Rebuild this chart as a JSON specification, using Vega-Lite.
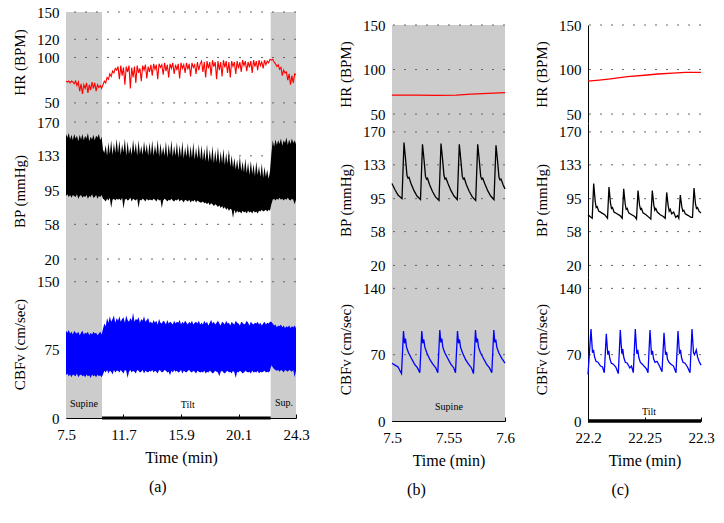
{
"$schema": "https://vega.github.io/schema/vega-lite/v6.json",
"background": "white",
"padding": {"left": 12, "top": 5, "right": 5, "bottom": 5},
"config": {
  "font": "Liberation Serif",
  "view": {"stroke": null},
  "axis": {"labelFont": "Liberation Serif", "labelFontSize": 15, "labelColor": "#000", "titleFont": "Liberation Serif", "titleFontSize": 15, "titleFontWeight": "normal", "titleColor": "#000", "grid": false, "domainColor": "#000", "domainWidth": 1, "tickColor": "#000", "labelFlush": false, "labelOverlap": false, "labelBound": false, "zindex": 1, "tickCount": 20},
  "axisY": {"ticks": false, "labelPadding": 7, "titlePadding": 9, "labelOverlap": false},
  "axisX": {"tickSize": -4, "labelPadding": 13, "titlePadding": 7, "titleFontSize": 16, "labelOverlap": false},
  "title": {"font": "Liberation Serif", "fontSize": 16, "fontWeight": "normal", "color": "#000", "anchor": "middle"},
  "text": {"font": "Liberation Serif", "fontSize": 10}
},
"datasets": {
  "phA": [{"start":7.5,"end":10.13,"phase":"Supine"},{"start":10.13,"end":22.45,"phase":"Tilt"},{"start":22.45,"end":24.3,"phase":"Supine"}],
  "lbA": [{"t":8.81,"v":15,"label":"Supine"},{"t":16.39,"v":14,"label":"Tilt"},{"t":23.42,"v":16,"label":"Sup."}],
  "phB": [{"start":7.5,"end":7.6,"phase":"Supine"}],
  "lbB": [{"t":7.5504,"v":14.7,"label":"Supine"}],
  "phC": [{"start":22.2,"end":22.3,"phase":"Tilt"}],
  "lbC": [{"t":22.254,"v":9.5,"label":"Tilt"}],
  "a": [
{"t":7.5,"hr":74,"bh":157,"bl":89,"ch":96,"cl":47},
{"t":7.6,"hr":73,"bh":153,"bl":91,"ch":94,"cl":49},
{"t":7.7,"hr":74,"bh":158,"bl":88,"ch":97,"cl":46},
{"t":7.8,"hr":72,"bh":151,"bl":90,"ch":93,"cl":48},
{"t":7.9,"hr":74,"bh":156,"bl":87,"ch":95,"cl":45},
{"t":8.0,"hr":73,"bh":150,"bl":90,"ch":92,"cl":48},
{"t":8.1,"hr":71,"bh":157,"bl":89,"ch":96,"cl":47},
{"t":8.2,"hr":74,"bh":152,"bl":88,"ch":94,"cl":46},
{"t":8.3,"hr":69,"bh":155,"bl":91,"ch":93,"cl":49},
{"t":8.4,"hr":73,"bh":149,"bl":86,"ch":95,"cl":45},
{"t":8.5,"hr":63,"bh":156,"bl":89,"ch":91,"cl":47},
{"t":8.6,"hr":71,"bh":151,"bl":90,"ch":94,"cl":48},
{"t":8.7,"hr":60,"bh":157,"bl":87,"ch":96,"cl":46},
{"t":8.8,"hr":70,"bh":150,"bl":89,"ch":92,"cl":47},
{"t":8.9,"hr":66,"bh":155,"bl":88,"ch":94,"cl":45},
{"t":9.0,"hr":72,"bh":152,"bl":90,"ch":93,"cl":48},
{"t":9.1,"hr":61,"bh":158,"bl":86,"ch":95,"cl":46},
{"t":9.2,"hr":70,"bh":149,"bl":89,"ch":91,"cl":47},
{"t":9.3,"hr":64,"bh":154,"bl":88,"ch":94,"cl":44},
{"t":9.4,"hr":73,"bh":151,"bl":91,"ch":92,"cl":48},
{"t":9.5,"hr":66,"bh":156,"bl":87,"ch":95,"cl":46},
{"t":9.6,"hr":72,"bh":150,"bl":88,"ch":93,"cl":47},
{"t":9.7,"hr":63,"bh":155,"bl":90,"ch":94,"cl":45},
{"t":9.8,"hr":70,"bh":153,"bl":86,"ch":91,"cl":48},
{"t":9.9,"hr":67,"bh":157,"bl":89,"ch":93,"cl":46},
{"t":10.0,"hr":69,"bh":150,"bl":88,"ch":95,"cl":47},
{"t":10.1,"hr":66,"bh":154,"bl":90,"ch":92,"cl":45},
{"t":10.2,"hr":70,"bh":140,"bl":86,"ch":98,"cl":48},
{"t":10.3,"hr":74,"bh":136,"bl":85,"ch":104,"cl":52},
{"t":10.4,"hr":72,"bh":145,"bl":83,"ch":101,"cl":50},
{"t":10.5,"hr":78,"bh":133,"bl":86,"ch":110,"cl":53},
{"t":10.6,"hr":76,"bh":148,"bl":84,"ch":105,"cl":49},
{"t":10.7,"hr":82,"bh":135,"bl":87,"ch":112,"cl":52},
{"t":10.8,"hr":79,"bh":150,"bl":76,"ch":106,"cl":51},
{"t":10.9,"hr":85,"bh":134,"bl":85,"ch":109,"cl":48},
{"t":11.0,"hr":83,"bh":147,"bl":86,"ch":113,"cl":53},
{"t":11.1,"hr":88,"bh":136,"bl":84,"ch":105,"cl":50},
{"t":11.2,"hr":86,"bh":152,"bl":86,"ch":110,"cl":52},
{"t":11.3,"hr":90,"bh":136,"bl":85,"ch":107,"cl":52},
{"t":11.4,"hr":76,"bh":150,"bl":86,"ch":112,"cl":50},
{"t":11.5,"hr":91,"bh":134,"bl":84,"ch":106,"cl":53},
{"t":11.6,"hr":80,"bh":146,"bl":87,"ch":109,"cl":51},
{"t":11.7,"hr":89,"bh":137,"bl":75,"ch":111,"cl":49},
{"t":11.8,"hr":70,"bh":152,"bl":85,"ch":105,"cl":53},
{"t":11.9,"hr":90,"bh":133,"bl":86,"ch":113,"cl":52},
{"t":12.0,"hr":84,"bh":149,"bl":84,"ch":108,"cl":44},
{"t":12.1,"hr":91,"bh":135,"bl":85,"ch":106,"cl":51},
{"t":12.2,"hr":66,"bh":143,"bl":87,"ch":110,"cl":53},
{"t":12.3,"hr":89,"bh":134,"bl":83,"ch":107,"cl":50},
{"t":12.4,"hr":78,"bh":151,"bl":86,"ch":116,"cl":52},
{"t":12.5,"hr":90,"bh":136,"bl":85,"ch":106,"cl":51},
{"t":12.6,"hr":72,"bh":147,"bl":84,"ch":109,"cl":49},
{"t":12.7,"hr":91,"bh":133,"bl":86,"ch":108,"cl":53},
{"t":12.8,"hr":83,"bh":150,"bl":76,"ch":111,"cl":52},
{"t":12.9,"hr":88,"bh":135,"bl":85,"ch":105,"cl":50},
{"t":13.0,"hr":74,"bh":144,"bl":84,"ch":109,"cl":51},
{"t":13.1,"hr":91,"bh":134,"bl":86,"ch":107,"cl":53},
{"t":13.2,"hr":86,"bh":149,"bl":85,"ch":112,"cl":49},
{"t":13.3,"hr":92,"bh":136,"bl":83,"ch":106,"cl":52},
{"t":13.4,"hr":77,"bh":146,"bl":86,"ch":108,"cl":51},
{"t":13.5,"hr":90,"bh":133,"bl":84,"ch":110,"cl":50},
{"t":13.6,"hr":84,"bh":148,"bl":85,"ch":105,"cl":52},
{"t":13.7,"hr":92,"bh":134,"bl":85,"ch":106,"cl":51},
{"t":13.8,"hr":80,"bh":150,"bl":84,"ch":104,"cl":53},
{"t":13.9,"hr":93,"bh":133,"bl":86,"ch":108,"cl":50},
{"t":14.0,"hr":87,"bh":145,"bl":85,"ch":105,"cl":52},
{"t":14.1,"hr":92,"bh":135,"bl":83,"ch":107,"cl":51},
{"t":14.2,"hr":76,"bh":151,"bl":86,"ch":103,"cl":49},
{"t":14.3,"hr":93,"bh":132,"bl":84,"ch":109,"cl":53},
{"t":14.4,"hr":89,"bh":147,"bl":85,"ch":105,"cl":52},
{"t":14.5,"hr":92,"bh":134,"bl":76,"ch":104,"cl":50},
{"t":14.6,"hr":81,"bh":143,"bl":84,"ch":107,"cl":51},
{"t":14.7,"hr":94,"bh":133,"bl":86,"ch":106,"cl":53},
{"t":14.8,"hr":85,"bh":149,"bl":85,"ch":103,"cl":52},
{"t":14.9,"hr":92,"bh":131,"bl":83,"ch":108,"cl":50},
{"t":15.0,"hr":78,"bh":146,"bl":85,"ch":104,"cl":51},
{"t":15.1,"hr":93,"bh":134,"bl":84,"ch":106,"cl":47},
{"t":15.2,"hr":88,"bh":150,"bl":86,"ch":105,"cl":52},
{"t":15.3,"hr":94,"bh":132,"bl":84,"ch":103,"cl":50},
{"t":15.4,"hr":82,"bh":144,"bl":83,"ch":107,"cl":53},
{"t":15.5,"hr":92,"bh":133,"bl":85,"ch":104,"cl":51},
{"t":15.6,"hr":86,"bh":148,"bl":84,"ch":106,"cl":52},
{"t":15.7,"hr":93,"bh":131,"bl":86,"ch":105,"cl":50},
{"t":15.8,"hr":77,"bh":145,"bl":83,"ch":108,"cl":51},
{"t":15.9,"hr":94,"bh":132,"bl":85,"ch":103,"cl":53},
{"t":16.0,"hr":88,"bh":149,"bl":84,"ch":106,"cl":49},
{"t":16.1,"hr":92,"bh":130,"bl":82,"ch":104,"cl":52},
{"t":16.2,"hr":83,"bh":143,"bl":85,"ch":107,"cl":51},
{"t":16.3,"hr":94,"bh":132,"bl":84,"ch":105,"cl":50},
{"t":16.4,"hr":87,"bh":147,"bl":83,"ch":103,"cl":52},
{"t":16.5,"hr":93,"bh":130,"bl":85,"ch":106,"cl":53},
{"t":16.6,"hr":79,"bh":144,"bl":82,"ch":104,"cl":51},
{"t":16.7,"hr":94,"bh":131,"bl":84,"ch":107,"cl":50},
{"t":16.8,"hr":89,"bh":148,"bl":83,"ch":103,"cl":52},
{"t":16.9,"hr":92,"bh":129,"bl":85,"ch":105,"cl":51},
{"t":17.0,"hr":82,"bh":142,"bl":82,"ch":106,"cl":49},
{"t":17.1,"hr":95,"bh":130,"bl":84,"ch":104,"cl":52},
{"t":17.2,"hr":86,"bh":146,"bl":83,"ch":107,"cl":51},
{"t":17.3,"hr":93,"bh":129,"bl":82,"ch":103,"cl":50},
{"t":17.4,"hr":96,"bh":145,"bl":82,"ch":105,"cl":51},
{"t":17.5,"hr":84,"bh":128,"bl":83,"ch":103,"cl":50},
{"t":17.6,"hr":95,"bh":141,"bl":81,"ch":107,"cl":52},
{"t":17.7,"hr":78,"bh":127,"bl":82,"ch":104,"cl":49},
{"t":17.8,"hr":96,"bh":146,"bl":80,"ch":106,"cl":51},
{"t":17.9,"hr":88,"bh":126,"bl":82,"ch":102,"cl":50},
{"t":18.0,"hr":95,"bh":140,"bl":79,"ch":105,"cl":52},
{"t":18.1,"hr":80,"bh":127,"bl":81,"ch":108,"cl":51},
{"t":18.2,"hr":97,"bh":144,"bl":80,"ch":104,"cl":49},
{"t":18.3,"hr":90,"bh":125,"bl":78,"ch":106,"cl":50},
{"t":18.4,"hr":95,"bh":139,"bl":80,"ch":103,"cl":52},
{"t":18.5,"hr":76,"bh":126,"bl":79,"ch":105,"cl":51},
{"t":18.6,"hr":96,"bh":143,"bl":77,"ch":107,"cl":50},
{"t":18.7,"hr":86,"bh":124,"bl":79,"ch":104,"cl":46},
{"t":18.8,"hr":95,"bh":138,"bl":76,"ch":102,"cl":51},
{"t":18.9,"hr":79,"bh":125,"bl":78,"ch":106,"cl":52},
{"t":19.0,"hr":97,"bh":141,"bl":75,"ch":105,"cl":50},
{"t":19.1,"hr":89,"bh":123,"bl":77,"ch":103,"cl":49},
{"t":19.2,"hr":96,"bh":136,"bl":74,"ch":107,"cl":51},
{"t":19.3,"hr":83,"bh":124,"bl":76,"ch":104,"cl":52},
{"t":19.4,"hr":95,"bh":140,"bl":73,"ch":105,"cl":50},
{"t":19.5,"hr":78,"bh":121,"bl":75,"ch":102,"cl":51},
{"t":19.6,"hr":96,"bh":134,"bl":74,"ch":106,"cl":49},
{"t":19.7,"hr":90,"bh":120,"bl":65,"ch":104,"cl":52},
{"t":19.8,"hr":95,"bh":131,"bl":74,"ch":103,"cl":50},
{"t":19.9,"hr":82,"bh":118,"bl":70,"ch":107,"cl":44},
{"t":20.0,"hr":96,"bh":129,"bl":73,"ch":105,"cl":51},
{"t":20.1,"hr":88,"bh":117,"bl":71,"ch":104,"cl":50},
{"t":20.2,"hr":95,"bh":133,"bl":72,"ch":102,"cl":52},
{"t":20.3,"hr":84,"bh":116,"bl":70,"ch":106,"cl":51},
{"t":20.4,"hr":97,"bh":127,"bl":73,"ch":105,"cl":49},
{"t":20.5,"hr":91,"bh":115,"bl":71,"ch":103,"cl":50},
{"t":20.6,"hr":96,"bh":130,"bl":72,"ch":104,"cl":52},
{"t":20.7,"hr":85,"bh":114,"bl":70,"ch":107,"cl":51},
{"t":20.8,"hr":95,"bh":126,"bl":73,"ch":105,"cl":50},
{"t":20.9,"hr":89,"bh":112,"bl":71,"ch":102,"cl":51},
{"t":21.0,"hr":96,"bh":128,"bl":72,"ch":106,"cl":49},
{"t":21.1,"hr":83,"bh":113,"bl":70,"ch":104,"cl":52},
{"t":21.2,"hr":97,"bh":124,"bl":73,"ch":103,"cl":50},
{"t":21.3,"hr":90,"bh":111,"bl":71,"ch":105,"cl":51},
{"t":21.4,"hr":96,"bh":127,"bl":72,"ch":104,"cl":50},
{"t":21.5,"hr":86,"bh":112,"bl":70,"ch":106,"cl":52},
{"t":21.6,"hr":97,"bh":122,"bl":73,"ch":103,"cl":49},
{"t":21.7,"hr":91,"bh":110,"bl":72,"ch":105,"cl":51},
{"t":21.8,"hr":95,"bh":125,"bl":74,"ch":102,"cl":50},
{"t":21.9,"hr":88,"bh":109,"bl":72,"ch":104,"cl":51},
{"t":22.0,"hr":97,"bh":121,"bl":73,"ch":106,"cl":52},
{"t":22.1,"hr":92,"bh":110,"bl":74,"ch":103,"cl":50},
{"t":22.2,"hr":96,"bh":118,"bl":72,"ch":105,"cl":51},
{"t":22.3,"hr":94,"bh":108,"bl":74,"ch":104,"cl":50},
{"t":22.4,"hr":98,"bh":116,"bl":73,"ch":106,"cl":52},
{"t":22.5,"hr":97,"bh":135,"bl":80,"ch":106,"cl":58},
{"t":22.6,"hr":98,"bh":150,"bl":85,"ch":104,"cl":56},
{"t":22.7,"hr":95,"bh":143,"bl":86,"ch":102,"cl":54},
{"t":22.8,"hr":93,"bh":151,"bl":84,"ch":103,"cl":53},
{"t":22.9,"hr":90,"bh":145,"bl":86,"ch":100,"cl":52},
{"t":23.0,"hr":92,"bh":150,"bl":85,"ch":102,"cl":53},
{"t":23.1,"hr":87,"bh":146,"bl":87,"ch":101,"cl":51},
{"t":23.2,"hr":89,"bh":152,"bl":85,"ch":103,"cl":53},
{"t":23.3,"hr":80,"bh":144,"bl":86,"ch":100,"cl":52},
{"t":23.4,"hr":86,"bh":150,"bl":84,"ch":102,"cl":50},
{"t":23.5,"hr":83,"bh":147,"bl":86,"ch":99,"cl":53},
{"t":23.6,"hr":84,"bh":153,"bl":85,"ch":101,"cl":52},
{"t":23.7,"hr":75,"bh":145,"bl":87,"ch":100,"cl":51},
{"t":23.8,"hr":82,"bh":151,"bl":85,"ch":102,"cl":53},
{"t":23.9,"hr":70,"bh":146,"bl":84,"ch":99,"cl":52},
{"t":24.0,"hr":80,"bh":152,"bl":86,"ch":101,"cl":51},
{"t":24.1,"hr":72,"bh":147,"bl":85,"ch":100,"cl":53},
{"t":24.2,"hr":82,"bh":150,"bl":80,"ch":102,"cl":45},
{"t":24.3,"hr":81,"bh":146,"bl":85,"ch":99,"cl":52}
  ],
  "bHR": [{"t":7.5,"v":71.3},{"t":7.52,"v":71.2},{"t":7.54,"v":71.1},{"t":7.557,"v":71.3},{"t":7.57,"v":72.3},{"t":7.58,"v":73.0},{"t":7.59,"v":73.6},{"t":7.6,"v":74.2}],
  "bBP": [
{"t":7.5,"v":112},{"t":7.50265,"v":105},{"t":7.50531,"v":99},{"t":7.50885,"v":95},{"t":7.51062,"v":158},{"t":7.51195,"v":140},{"t":7.51327,"v":121},{"t":7.51416,"v":118},{"t":7.51504,"v":119},{"t":7.51681,"v":112},{"t":7.51947,"v":104},{"t":7.52212,"v":98},{"t":7.52522,"v":94},
{"t":7.52699,"v":156},{"t":7.52832,"v":139},{"t":7.52965,"v":120},{"t":7.53053,"v":117},{"t":7.53142,"v":118},{"t":7.53319,"v":111},{"t":7.53584,"v":103},{"t":7.5385,"v":97},{"t":7.54159,"v":93},
{"t":7.54336,"v":157},{"t":7.54469,"v":140},{"t":7.54602,"v":121},{"t":7.5469,"v":117},{"t":7.54779,"v":118},{"t":7.54956,"v":112},{"t":7.55221,"v":104},{"t":7.55487,"v":98},{"t":7.55779,"v":94},
{"t":7.55956,"v":156},{"t":7.56088,"v":139},{"t":7.56221,"v":120},{"t":7.5631,"v":117},{"t":7.56398,"v":118},{"t":7.56575,"v":111},{"t":7.56841,"v":103},{"t":7.57106,"v":97},{"t":7.57407,"v":93},
{"t":7.57584,"v":156},{"t":7.57717,"v":139},{"t":7.5785,"v":120},{"t":7.57938,"v":117},{"t":7.58027,"v":118},{"t":7.58204,"v":112},{"t":7.58469,"v":104},{"t":7.58735,"v":98},{"t":7.59027,"v":94},
{"t":7.59204,"v":155},{"t":7.59336,"v":138},{"t":7.59469,"v":119},{"t":7.59558,"v":116},{"t":7.59646,"v":117},{"t":7.59823,"v":111},{"t":7.6,"v":106}
  ],
  "bCB": [
{"t":7.5,"v":61},{"t":7.50265,"v":59},{"t":7.50531,"v":57},{"t":7.50708,"v":53},{"t":7.50841,"v":50},{"t":7.51018,"v":95},{"t":7.51106,"v":82},{"t":7.51195,"v":87},{"t":7.51283,"v":78},{"t":7.5146,"v":72},{"t":7.51726,"v":66},{"t":7.51991,"v":60},{"t":7.52257,"v":56},{"t":7.5246,"v":51},
{"t":7.52637,"v":95},{"t":7.52726,"v":82},{"t":7.52814,"v":86},{"t":7.52903,"v":78},{"t":7.5308,"v":72},{"t":7.53345,"v":65},{"t":7.53611,"v":60},{"t":7.53876,"v":56},{"t":7.54053,"v":51},
{"t":7.5423,"v":96},{"t":7.54319,"v":83},{"t":7.54407,"v":87},{"t":7.54496,"v":78},{"t":7.54673,"v":72},{"t":7.54938,"v":66},{"t":7.55204,"v":60},{"t":7.55469,"v":56},{"t":7.55619,"v":51},
{"t":7.55796,"v":95},{"t":7.55885,"v":82},{"t":7.55973,"v":86},{"t":7.56062,"v":78},{"t":7.56239,"v":72},{"t":7.56504,"v":65},{"t":7.5677,"v":60},{"t":7.57035,"v":56},{"t":7.57212,"v":50},
{"t":7.57389,"v":96},{"t":7.57478,"v":83},{"t":7.57566,"v":87},{"t":7.57655,"v":78},{"t":7.57832,"v":72},{"t":7.58097,"v":66},{"t":7.58363,"v":60},{"t":7.58628,"v":56},{"t":7.58832,"v":51},
{"t":7.59009,"v":96},{"t":7.59097,"v":83},{"t":7.59186,"v":86},{"t":7.59274,"v":78},{"t":7.59451,"v":72},{"t":7.59717,"v":66},{"t":7.6,"v":61}
  ],
  "cHR": [{"t":22.2,"v":87},{"t":22.21,"v":88.2},{"t":22.22,"v":89.6},{"t":22.235,"v":92},{"t":22.25,"v":93.6},{"t":22.262,"v":95},{"t":22.275,"v":96},{"t":22.286,"v":96.8},{"t":22.3,"v":96.9}],
  "cBP": [
{"t":22.2,"v":77},{"t":22.20177,"v":75},{"t":22.20372,"v":73},{"t":22.20504,"v":112},{"t":22.20637,"v":92},{"t":22.20726,"v":85},{"t":22.20814,"v":86},{"t":22.20947,"v":81},{"t":22.21212,"v":79},{"t":22.21478,"v":77},{"t":22.21726,"v":73},
{"t":22.21858,"v":108},{"t":22.21991,"v":90},{"t":22.2208,"v":84},{"t":22.22168,"v":85},{"t":22.22301,"v":80},{"t":22.22566,"v":78},{"t":22.22832,"v":76},{"t":22.23027,"v":73},
{"t":22.23159,"v":106},{"t":22.23292,"v":89},{"t":22.23381,"v":83},{"t":22.23469,"v":84},{"t":22.23602,"v":79},{"t":22.23867,"v":77},{"t":22.24133,"v":75},{"t":22.24292,"v":72},
{"t":22.24425,"v":104},{"t":22.24558,"v":88},{"t":22.24646,"v":83},{"t":22.24735,"v":84},{"t":22.24867,"v":79},{"t":22.25133,"v":77},{"t":22.25398,"v":74},{"t":22.25558,"v":72},
{"t":22.2569,"v":104},{"t":22.25823,"v":88},{"t":22.25912,"v":82},{"t":22.26,"v":84},{"t":22.26133,"v":80},{"t":22.26398,"v":77},{"t":22.26664,"v":75},{"t":22.26832,"v":73},
{"t":22.26965,"v":102},{"t":22.27097,"v":87},{"t":22.27186,"v":81},{"t":22.27274,"v":83},{"t":22.27407,"v":78},{"t":22.27584,"v":80},{"t":22.27761,"v":74},{"t":22.2792,"v":76},{"t":22.28035,"v":73},
{"t":22.28168,"v":99},{"t":22.28301,"v":86},{"t":22.28389,"v":81},{"t":22.28478,"v":82},{"t":22.28611,"v":78},{"t":22.28876,"v":76},{"t":22.29115,"v":74},{"t":22.29248,"v":74},
{"t":22.29381,"v":107},{"t":22.29513,"v":89},{"t":22.29602,"v":84},{"t":22.2969,"v":85},{"t":22.29823,"v":81},{"t":22.3,"v":79}
  ],
  "cCB": [
{"t":22.2,"v":49},{"t":22.20265,"v":97},{"t":22.20398,"v":72},{"t":22.20487,"v":75},{"t":22.20575,"v":68},{"t":22.20708,"v":63},{"t":22.20885,"v":62},{"t":22.21106,"v":58},{"t":22.21283,"v":57},{"t":22.21442,"v":51},
{"t":22.21619,"v":92},{"t":22.21752,"v":70},{"t":22.21841,"v":74},{"t":22.21929,"v":66},{"t":22.22062,"v":61},{"t":22.22239,"v":60},{"t":22.2246,"v":57},{"t":22.22681,"v":50},
{"t":22.22858,"v":96},{"t":22.22991,"v":71},{"t":22.2308,"v":76},{"t":22.23168,"v":67},{"t":22.23301,"v":62},{"t":22.23478,"v":61},{"t":22.23699,"v":56},{"t":22.2385,"v":58},{"t":22.24009,"v":51},
{"t":22.24186,"v":97},{"t":22.24319,"v":71},{"t":22.24407,"v":75},{"t":22.24496,"v":67},{"t":22.24628,"v":62},{"t":22.24805,"v":60},{"t":22.25027,"v":57},{"t":22.25177,"v":55},{"t":22.2531,"v":51},
{"t":22.25487,"v":96},{"t":22.25619,"v":70},{"t":22.25708,"v":74},{"t":22.25796,"v":66},{"t":22.25929,"v":62},{"t":22.26106,"v":63},{"t":22.26327,"v":58},{"t":22.26549,"v":52},
{"t":22.26726,"v":93},{"t":22.26858,"v":70},{"t":22.26947,"v":73},{"t":22.27035,"v":65},{"t":22.27168,"v":62},{"t":22.27345,"v":60},{"t":22.27566,"v":58},{"t":22.27788,"v":51},
{"t":22.27965,"v":95},{"t":22.28097,"v":71},{"t":22.28186,"v":75},{"t":22.28274,"v":67},{"t":22.28407,"v":62},{"t":22.28584,"v":61},{"t":22.28805,"v":57},{"t":22.29027,"v":51},
{"t":22.29204,"v":97},{"t":22.29336,"v":72},{"t":22.29425,"v":70},{"t":22.29584,"v":75},{"t":22.2969,"v":68},{"t":22.29823,"v":63},{"t":22.3,"v":59}
  ]
},
"spacing": 28,
"hconcat": [
 {
  "title": {"text": "(a)", "orient": "bottom", "anchor": "middle", "dx": -3, "offset": 14},
  "spacing": 0,
  "vconcat": [
   {"width": 230, "height": 100, "layer": [
     {"data": {"name": "phA"}, "transform": [{"filter": "datum.phase == 'Supine'"}], "mark": {"type": "rect", "color": "#cccccc"},
      "encoding": {"x": {"field": "start", "type": "quantitative", "scale": {"domain": [7.5, 24.3], "nice": false, "zero": false}, "axis": null}, "x2": {"field": "end"}}},
     {"data": {"values": [{"v": 50}, {"v": 100}, {"v": 120}, {"v": 150}]}, "mark": {"type": "rule", "color": "#666666", "strokeDash": [2, 9]},
      "encoding": {"y": {"field": "v", "type": "quantitative", "scale": {"domain": [40, 150], "nice": false, "zero": false}, "axis": {"values": [50, 100, 120, 150], "tickCount": 20, "title": "HR (BPM)", "domainColor": "#555555", "labelOverlap": false}}}},
     {"data": {"name": "a"}, "mark": {"type": "line", "color": "#ff0000", "strokeWidth": 1.1},
      "encoding": {"x": {"field": "t", "type": "quantitative", "scale": {"domain": [7.5, 24.3], "nice": false, "zero": false}, "axis": null}, "y": {"field": "hr", "type": "quantitative", "scale": {"domain": [40, 150], "nice": false, "zero": false}}}}
   ]},
   {"width": 230, "height": 158, "layer": [
     {"data": {"name": "phA"}, "transform": [{"filter": "datum.phase == 'Supine'"}], "mark": {"type": "rect", "color": "#cccccc"},
      "encoding": {"x": {"field": "start", "type": "quantitative", "scale": {"domain": [7.5, 24.3], "nice": false, "zero": false}, "axis": null}, "x2": {"field": "end"}}},
     {"data": {"values": [{"v": 20}, {"v": 58}, {"v": 95}, {"v": 133}, {"v": 170}]}, "mark": {"type": "rule", "color": "#666666", "strokeDash": [2, 9]},
      "encoding": {"y": {"field": "v", "type": "quantitative", "scale": {"domain": [8, 181], "nice": false, "zero": false}, "axis": {"values": [20, 58, 95, 133, 170], "tickCount": 20, "title": "BP (mmHg)", "domainColor": "#555555", "labelOverlap": false}}}},
     {"data": {"name": "a"}, "mark": {"type": "area", "color": "#000000"},
      "encoding": {"x": {"field": "t", "type": "quantitative", "scale": {"domain": [7.5, 24.3], "nice": false, "zero": false}, "axis": null}, "y": {"field": "bh", "type": "quantitative", "scale": {"domain": [8, 181], "nice": false, "zero": false}}, "y2": {"field": "bl"}}}
   ]},
   {"width": 230, "height": 148, "layer": [
     {"data": {"name": "phA"}, "transform": [{"filter": "datum.phase == 'Supine'"}], "mark": {"type": "rect", "color": "#cccccc"},
      "encoding": {"x": {"field": "start", "type": "quantitative", "scale": {"domain": [7.5, 24.3], "nice": false, "zero": false}, "axis": {"values": [7.5, 11.7, 15.9, 20.1, 24.3], "tickCount": 20, "title": "Time (min)", "labelExpr": "'' + datum.value", "labelOverlap": false}}, "x2": {"field": "end"}}},
     {"data": {"values": [{"v": 75}, {"v": 150}]}, "mark": {"type": "rule", "color": "#666666", "strokeDash": [2, 9]},
      "encoding": {"y": {"field": "v", "type": "quantitative", "scale": {"domain": [0, 163], "nice": false, "zero": false}, "axis": {"values": [0, 75, 150], "tickCount": 20, "title": "CBFv (cm/sec)", "domainColor": "#555555", "labelOverlap": false}}}},
     {"data": {"name": "a"}, "mark": {"type": "area", "color": "#0000ff"},
      "encoding": {"x": {"field": "t", "type": "quantitative", "scale": {"domain": [7.5, 24.3], "nice": false, "zero": false}}, "y": {"field": "ch", "type": "quantitative", "scale": {"domain": [0, 163], "nice": false, "zero": false}}, "y2": {"field": "cl"}}},
     {"data": {"name": "phA"}, "transform": [{"filter": "datum.phase == 'Tilt'"}], "mark": {"type": "rule", "color": "#000000", "strokeWidth": 3},
      "encoding": {"x": {"field": "start", "type": "quantitative", "scale": {"domain": [7.5, 24.3], "nice": false, "zero": false}}, "x2": {"field": "end"}, "y": {"datum": 0, "type": "quantitative", "scale": {"domain": [0, 163], "nice": false, "zero": false}}}},
     {"data": {"name": "lbA"}, "mark": {"type": "text", "color": "#000000", "baseline": "middle"},
      "encoding": {"x": {"field": "t", "type": "quantitative", "scale": {"domain": [7.5, 24.3], "nice": false, "zero": false}}, "y": {"field": "v", "type": "quantitative", "scale": {"domain": [0, 163], "nice": false, "zero": false}}, "text": {"field": "label"}}}
   ]}
  ]
 },
 {
  "spacing": 19,
  "hconcat": [
   {
    "title": {"text": "(b)", "orient": "bottom", "anchor": "middle", "dx": -10, "offset": 14},
    "spacing": 0,
    "vconcat": [
     {"width": 113, "height": 5, "data": {"values": [{}]}, "mark": {"type": "point", "opacity": 0}, "encoding": {}},
     {"width": 113, "height": 98, "layer": [
       {"data": {"name": "phB"}, "mark": {"type": "rect", "color": "#cccccc"},
        "encoding": {"x": {"field": "start", "type": "quantitative", "scale": {"domain": [7.5, 7.6], "nice": false, "zero": false}, "axis": null}, "x2": {"field": "end"}}},
       {"data": {"values": [{"v": 50}, {"v": 100}, {"v": 150}]}, "mark": {"type": "rule", "color": "#666666", "strokeDash": [2, 9]},
        "encoding": {"y": {"field": "v", "type": "quantitative", "scale": {"domain": [40, 150], "nice": false, "zero": false}, "axis": {"values": [50, 100, 150], "tickCount": 20, "title": "HR (BPM)", "labelOverlap": false}}}},
       {"data": {"name": "bHR"}, "mark": {"type": "line", "color": "#ff0000", "strokeWidth": 1.3},
        "encoding": {"x": {"field": "t", "type": "quantitative", "scale": {"domain": [7.5, 7.6], "nice": false, "zero": false}, "axis": null}, "y": {"field": "v", "type": "quantitative", "scale": {"domain": [40, 150], "nice": false, "zero": false}}}}
     ]},
     {"width": 113, "height": 154, "layer": [
       {"data": {"name": "phB"}, "mark": {"type": "rect", "color": "#cccccc"},
        "encoding": {"x": {"field": "start", "type": "quantitative", "scale": {"domain": [7.5, 7.6], "nice": false, "zero": false}, "axis": null}, "x2": {"field": "end"}}},
       {"data": {"values": [{"v": 20}, {"v": 58}, {"v": 95}, {"v": 133}, {"v": 170}]}, "mark": {"type": "rule", "color": "#666666", "strokeDash": [2, 9]},
        "encoding": {"y": {"field": "v", "type": "quantitative", "scale": {"domain": [7, 180], "nice": false, "zero": false}, "axis": {"values": [20, 58, 95, 133, 170], "tickCount": 20, "title": "BP (mmHg)", "labelOverlap": false}}}},
       {"data": {"name": "bBP"}, "mark": {"type": "line", "color": "#000000", "strokeWidth": 1.3},
        "encoding": {"x": {"field": "t", "type": "quantitative", "scale": {"domain": [7.5, 7.6], "nice": false, "zero": false}, "axis": null}, "y": {"field": "v", "type": "quantitative", "scale": {"domain": [7, 180], "nice": false, "zero": false}}}}
     ]},
     {"width": 113, "height": 144, "layer": [
       {"data": {"name": "phB"}, "mark": {"type": "rect", "color": "#cccccc"},
        "encoding": {"x": {"field": "start", "type": "quantitative", "scale": {"domain": [7.5, 7.6], "nice": false, "zero": false}, "axis": {"values": [7.5, 7.55, 7.6], "tickCount": 20, "title": "Time (min)", "labelExpr": "'' + datum.value", "labelOverlap": false}}, "x2": {"field": "end"}}},
       {"data": {"values": [{"v": 70}, {"v": 140}]}, "mark": {"type": "rule", "color": "#666666", "strokeDash": [2, 9]},
        "encoding": {"y": {"field": "v", "type": "quantitative", "scale": {"domain": [0, 152], "nice": false, "zero": false}, "axis": {"values": [0, 70, 140], "tickCount": 20, "title": "CBFv (cm/sec)", "labelOverlap": false}}}},
       {"data": {"name": "bCB"}, "mark": {"type": "line", "color": "#0000ff", "strokeWidth": 1.3},
        "encoding": {"x": {"field": "t", "type": "quantitative", "scale": {"domain": [7.5, 7.6], "nice": false, "zero": false}}, "y": {"field": "v", "type": "quantitative", "scale": {"domain": [0, 152], "nice": false, "zero": false}}}},
       {"data": {"name": "lbB"}, "mark": {"type": "text", "color": "#000000", "baseline": "middle"},
        "encoding": {"x": {"field": "t", "type": "quantitative", "scale": {"domain": [7.5, 7.6], "nice": false, "zero": false}}, "y": {"field": "v", "type": "quantitative", "scale": {"domain": [0, 152], "nice": false, "zero": false}}, "text": {"field": "label"}}}
     ]}
    ]
   },
   {
    "title": {"text": "(c)", "orient": "bottom", "anchor": "middle", "dx": -4, "offset": 14},
    "spacing": 0,
    "vconcat": [
     {"width": 113, "height": 5, "data": {"values": [{}]}, "mark": {"type": "point", "opacity": 0}, "encoding": {}},
     {"width": 113, "height": 98, "layer": [
       {"data": {"values": [{"v": 50}, {"v": 100}, {"v": 150}]}, "mark": {"type": "rule", "color": "#666666", "strokeDash": [2, 9]},
        "encoding": {"y": {"field": "v", "type": "quantitative", "scale": {"domain": [40, 150], "nice": false, "zero": false}, "axis": {"values": [50, 100, 150], "tickCount": 20, "title": "HR (BPM)", "labelOverlap": false}}}},
       {"data": {"name": "cHR"}, "mark": {"type": "line", "color": "#ff0000", "strokeWidth": 1.3},
        "encoding": {"x": {"field": "t", "type": "quantitative", "scale": {"domain": [22.2, 22.3], "nice": false, "zero": false}, "axis": null}, "y": {"field": "v", "type": "quantitative", "scale": {"domain": [40, 150], "nice": false, "zero": false}}}}
     ]},
     {"width": 113, "height": 154, "layer": [
       {"data": {"values": [{"v": 20}, {"v": 58}, {"v": 95}, {"v": 133}, {"v": 170}]}, "mark": {"type": "rule", "color": "#666666", "strokeDash": [2, 9]},
        "encoding": {"y": {"field": "v", "type": "quantitative", "scale": {"domain": [7, 180], "nice": false, "zero": false}, "axis": {"values": [20, 58, 95, 133, 170], "tickCount": 20, "title": "BP (mmHg)", "labelOverlap": false}}}},
       {"data": {"name": "cBP"}, "mark": {"type": "line", "color": "#000000", "strokeWidth": 1.3},
        "encoding": {"x": {"field": "t", "type": "quantitative", "scale": {"domain": [22.2, 22.3], "nice": false, "zero": false}, "axis": null}, "y": {"field": "v", "type": "quantitative", "scale": {"domain": [7, 180], "nice": false, "zero": false}}}}
     ]},
     {"width": 113, "height": 144, "layer": [
       {"data": {"values": [{"v": 70}, {"v": 140}]}, "mark": {"type": "rule", "color": "#666666", "strokeDash": [2, 9]},
        "encoding": {"y": {"field": "v", "type": "quantitative", "scale": {"domain": [0, 152], "nice": false, "zero": false}, "axis": {"values": [0, 70, 140], "tickCount": 20, "title": "CBFv (cm/sec)", "labelOverlap": false}}}},
       {"data": {"name": "cCB"}, "mark": {"type": "line", "color": "#0000ff", "strokeWidth": 1.3},
        "encoding": {"x": {"field": "t", "type": "quantitative", "scale": {"domain": [22.2, 22.3], "nice": false, "zero": false}, "axis": {"values": [22.2, 22.25, 22.3], "tickCount": 20, "title": "Time (min)", "labelExpr": "'' + datum.value", "labelOverlap": false}}, "y": {"field": "v", "type": "quantitative", "scale": {"domain": [0, 152], "nice": false, "zero": false}}}},
       {"data": {"name": "phC"}, "mark": {"type": "rule", "color": "#000000", "strokeWidth": 3.5},
        "encoding": {"x": {"field": "start", "type": "quantitative", "scale": {"domain": [22.2, 22.3], "nice": false, "zero": false}}, "x2": {"field": "end"}, "y": {"datum": 0, "type": "quantitative", "scale": {"domain": [0, 152], "nice": false, "zero": false}}}},
       {"data": {"name": "lbC"}, "mark": {"type": "text", "color": "#000000", "baseline": "middle"},
        "encoding": {"x": {"field": "t", "type": "quantitative", "scale": {"domain": [22.2, 22.3], "nice": false, "zero": false}}, "y": {"field": "v", "type": "quantitative", "scale": {"domain": [0, 152], "nice": false, "zero": false}}, "text": {"field": "label"}}}
     ]}
    ]
   }
  ]
 }
]
}
